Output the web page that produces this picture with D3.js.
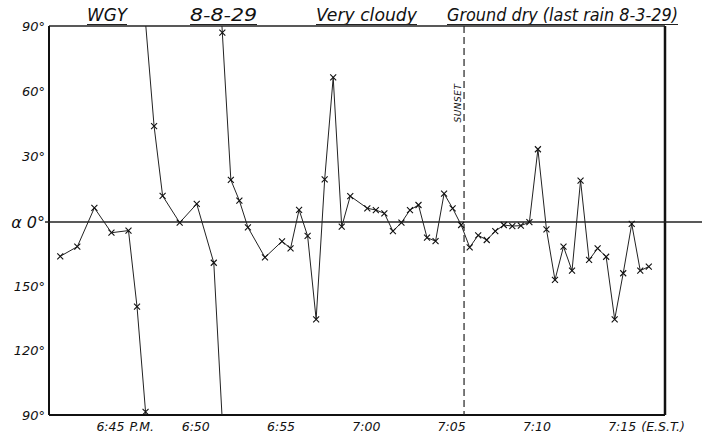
<!DOCTYPE html>
<html>
<head>
<meta charset="utf-8">
<script src="https://cdn.jsdelivr.net/npm/d3@7"></script>
<style>
  body { margin: 0; background: #fff; }
  text { font-family: "DejaVu Sans", sans-serif; font-style: italic; fill: #111; }
</style>
</head>
<body>
<script>
// Readings: minutes after 6:00 P.M. and angle alpha in degrees
// (negative values are the lower half, labelled 180 + alpha)
var times = [41, 42, 43, 44, 45, 45.5, 46, 46.5, 47, 48, 49, 50, 50.5, 51, 51.5,
  52, 53, 54, 54.5, 55, 55.5, 56, 56.5, 57, 57.5, 58, 59, 59.5, 60, 60.5,
  61, 61.5, 62, 62.5, 63, 63.5, 64, 64.5, 65, 65.5, 66, 66.5, 67, 67.5, 68,
  68.5, 69, 69.5, 70, 70.5, 71, 71.5, 72, 72.5, 73, 73.5, 74, 74.5, 75, 75.5];
var alphas = [-16, -11.5, 6.5, -5, -4, -39.5, -88.5, 44, 12, -0.3, 8.3, -19, 87, 19.3, 9.8,
  -2.5, -16.5, -9, -12.3, 5.6, -6.5, -45.4, 19.6, 66.4, -2.2, 11.9, 6.3, 5.5, 4, -4.3,
  -0.3, 5.5, 7.8, -7.3, -8.9, 13, 6.3, -1.4, -11.8, -6.2, -8.4, -4.3, -1.4, -1.9, -1.7,
  -0.1, 33.4, -3.4, -27, -11.5, -22.7, 19, -17.7, -12.3, -16.2, -45.4, -23.9, -0.9, -22.7, -20.8];

// Axis labels
var xTicks = [45, 50, 55, 60, 65, 70, 75];
var xTickLabels = ['6:45', '6:50', '6:55', '7:00', '7:05', '7:10', '7:15'];
var xTickSuffix = ['P.M.', '', '', '', '', '', '(E.S.T.)'];
var yTicks = [90, 60, 30, 0, -30, -60, -90];
var yTickLabels = ['90°', '60°', '30°', 'α 0°', '150°', '120°', '90°'];

var titles = ['WGY', '8-8-29', 'Very cloudy', 'Ground dry (last rain 8-3-29)'];
var sunsetTime = 64.67;

var width = 702,
  height = 439;

var svg = d3.select('body')
  .append('svg')
  .attr('width', width)
  .attr('height', height);

// plot frame
var pLeft = 49, pRight = 665, pTop = 26, pBottom = 415;

var x = d3.scaleLinear()
  .domain([40.34, 76.45])
  .range([pLeft, pRight]);

var y = d3.scaleLinear()
  .domain([-90, 0, 90])
  .range([pBottom, 222, pTop]);

// Title, hand lettered and underlined
var titleBox = [[87, 40], [190, 67], [316, 101], [447, 231]];
var tg = svg.append('g');
titles.forEach(function(t, i) {
  tg.append('text')
    .attr('x', titleBox[i][0])
    .attr('y', 21)
    .attr('font-size', 17)
    .attr('textLength', titleBox[i][1])
    .attr('lengthAdjust', 'spacingAndGlyphs')
    .text(t);
  tg.append('line')
    .attr('x1', titleBox[i][0]).attr('x2', titleBox[i][0] + titleBox[i][1])
    .attr('y1', 24.5).attr('y2', 24.5)
    .attr('stroke', '#222')
    .attr('stroke-width', 1.2);
});

// Frame
svg.append('line').attr('x1', pLeft).attr('x2', pRight).attr('y1', pTop).attr('y2', pTop)
  .attr('stroke', '#222').attr('stroke-width', 1.5);
svg.append('line').attr('x1', pLeft).attr('x2', pLeft).attr('y1', pTop).attr('y2', pBottom)
  .attr('stroke', '#111').attr('stroke-width', 2);
svg.append('line').attr('x1', pLeft).attr('x2', pRight).attr('y1', pBottom).attr('y2', pBottom)
  .attr('stroke', '#111').attr('stroke-width', 2);
svg.append('line').attr('x1', pRight).attr('x2', pRight).attr('y1', pTop).attr('y2', pBottom)
  .attr('stroke', '#111').attr('stroke-width', 2.5);

// Zero line
svg.append('line')
  .attr('x1', 45).attr('x2', width)
  .attr('y1', y(0)).attr('y2', y(0))
  .attr('stroke', '#222')
  .attr('stroke-width', 1.4);

// Y labels
svg.append('g').selectAll('text')
  .data(yTicks)
  .enter()
  .append('text')
  .attr('x', 45)
  .attr('y', function(d) { return y(d); })
  .attr('dy', '0.35em')
  .attr('text-anchor', 'end')
  .attr('font-size', function(d) { return d === 0 ? 16 : 13; })
  .text(function(d, i) { return yTickLabels[i]; });

// X labels
var xl = svg.append('g');
xl.selectAll('text.t')
  .data(xTicks)
  .enter()
  .append('text')
  .attr('class', 't')
  .attr('x', function(d) { return x(d) - 4; })
  .attr('y', 431)
  .attr('text-anchor', 'end')
  .attr('font-size', 12.5)
  .text(function(d, i) { return xTickLabels[i]; });
xl.selectAll('text.s')
  .data(xTicks)
  .enter()
  .append('text')
  .attr('class', 's')
  .attr('x', function(d) { return x(d) + 1; })
  .attr('y', 431)
  .attr('font-size', 12.5)
  .text(function(d, i) { return xTickSuffix[i]; });

// Sunset
svg.append('line')
  .attr('x1', x(sunsetTime)).attr('x2', x(sunsetTime))
  .attr('y1', pTop).attr('y2', pBottom)
  .attr('stroke', '#222')
  .attr('stroke-width', 1.2)
  .attr('stroke-dasharray', '7,4');
svg.append('text')
  .attr('transform', 'translate(' + (x(sunsetTime) - 3) + ',103) rotate(-90)')
  .attr('text-anchor', 'middle')
  .attr('font-size', 9)
  .attr('font-style', 'normal')
  .attr('letter-spacing', 0.5)
  .text('SUNSET');

// Unwrap the angle (it repeats every 180 degrees) so the line can run
// off one edge of the chart and come back in on the other
var unwrapped = [];
alphas.forEach(function(a, i) {
  if (i === 0) { unwrapped.push(a); return; }
  var d = a - alphas[i - 1];
  if (d > 90) d -= 180;
  if (d < -90) d += 180;
  unwrapped.push(unwrapped[i - 1] + d);
});

svg.append('clipPath')
  .attr('id', 'plot')
  .append('rect')
  .attr('x', pLeft).attr('y', pTop)
  .attr('width', pRight - pLeft).attr('height', pBottom - pTop);

var line = d3.line()
  .x(function(d, i) { return x(times[i]); })
  .y(function(d) { return y(d); });

var g = svg.append('g').attr('clip-path', 'url(#plot)');
[-2, -1, 0, 1, 2, 3].forEach(function(k) {
  g.append('path')
    .datum(unwrapped.map(function(u) { return u + k * 180; }))
    .attr('fill', 'none')
    .attr('stroke', '#222')
    .attr('stroke-width', 1)
    .attr('d', line);
});

// Cross markers
svg.append('g').selectAll('path')
  .data(alphas)
  .enter()
  .append('path')
  .attr('d', function(d, i) {
    var cx = x(times[i]), cy = y(d), s = 3;
    return 'M' + (cx - s) + ',' + (cy - s) + 'L' + (cx + s) + ',' + (cy + s) +
      'M' + (cx - s) + ',' + (cy + s) + 'L' + (cx + s) + ',' + (cy - s);
  })
  .attr('stroke', '#111')
  .attr('stroke-width', 1.1);
</script>
</body>
</html>
